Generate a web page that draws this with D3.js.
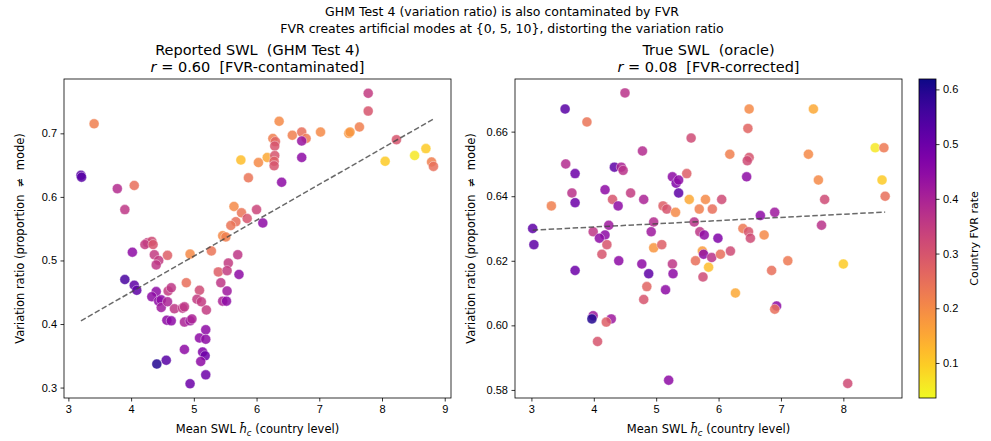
<!DOCTYPE html>
<html>
<head>
<meta charset="utf-8">
<script src="https://cdn.jsdelivr.net/npm/d3@7"></script>
<style>
  html, body { margin: 0; padding: 0; background: #fff; }
  svg { display: block; font-family: "DejaVu Sans", sans-serif; }
  svg text { white-space: pre; }
  .tick text { font-size: 11px; fill: #000; }
  .tick line, .domain { stroke: #000; stroke-width: 0.8; }
</style>
</head>
<body>
<svg id="chart" width="991" height="441"></svg>
<script>
// Reported SWL (left panel): mean SWL, variation ratio, country FVR rate
const reportedX = [3.41, 3.20, 3.21, 3.78, 4.05, 3.90, 5.75, 6.03, 5.87, 5.64, 5.76, 5.85, 5.67, 5.59, 6.00,
  6.36, 6.26, 6.30, 6.29, 6.57, 6.72, 6.79, 6.72, 7.02, 7.47, 7.49, 6.17, 6.29, 6.28, 6.28, 6.72, 6.40, 6.10,
  5.46, 5.51, 5.28, 5.70, 5.55, 5.39, 5.53, 5.72, 5.43, 5.53, 5.46, 5.52, 7.78, 7.78, 7.64, 8.23, 8.05, 8.52,
  8.70, 8.79, 8.82, 4.26, 4.33, 4.22, 4.35, 4.02, 4.37, 4.58, 4.44, 4.40, 4.94, 3.90, 4.05, 4.09, 4.40, 4.33,
  4.44, 4.48, 4.48, 4.58, 4.59, 4.64, 4.69, 4.82, 4.85, 4.88, 5.09, 5.05, 5.12, 5.20, 4.57, 4.64, 4.85, 4.94,
  4.97, 5.19, 5.09, 5.19, 4.85, 5.14, 5.18, 5.11, 4.56, 4.41, 5.19, 4.94];
const reportedY = [0.715, 0.634, 0.631, 0.613, 0.618, 0.580, 0.658, 0.654, 0.630, 0.585, 0.575, 0.566, 0.561, 0.555, 0.580,
  0.719, 0.692, 0.687, 0.680, 0.697, 0.702, 0.692, 0.688, 0.702, 0.700, 0.702, 0.662, 0.665, 0.656, 0.649, 0.662, 0.623, 0.559,
  0.539, 0.537, 0.515, 0.509, 0.496, 0.482, 0.484, 0.478, 0.465, 0.452, 0.436, 0.436, 0.763, 0.735, 0.710, 0.690, 0.656, 0.665,
  0.676, 0.655, 0.648, 0.528, 0.530, 0.525, 0.525, 0.513, 0.509, 0.508, 0.500, 0.493, 0.510, 0.470, 0.461, 0.453, 0.451, 0.443,
  0.436, 0.438, 0.426, 0.435, 0.452, 0.457, 0.424, 0.425, 0.427, 0.465, 0.453, 0.439, 0.435, 0.422, 0.406, 0.405, 0.403, 0.405,
  0.408, 0.391, 0.378, 0.376, 0.360, 0.356, 0.350, 0.341, 0.343, 0.337, 0.320, 0.306];
const reportedFvr = [0.22, 0.53, 0.53, 0.38, 0.25, 0.36, 0.12, 0.20, 0.24, 0.20, 0.24, 0.30, 0.25, 0.24, 0.33,
  0.20, 0.22, 0.27, 0.30, 0.22, 0.25, 0.23, 0.43, 0.20, 0.18, 0.18, 0.15, 0.30, 0.28, 0.30, 0.45, 0.45, 0.45,
  0.20, 0.22, 0.24, 0.36, 0.35, 0.28, 0.35, 0.45, 0.36, 0.42, 0.40, 0.45, 0.35, 0.30, 0.22, 0.30, 0.10, 0.06,
  0.10, 0.22, 0.25, 0.35, 0.32, 0.35, 0.30, 0.45, 0.35, 0.28, 0.35, 0.36, 0.20, 0.55, 0.52, 0.52, 0.45, 0.45,
  0.45, 0.45, 0.42, 0.40, 0.35, 0.36, 0.36, 0.36, 0.36, 0.25, 0.32, 0.35, 0.35, 0.35, 0.45, 0.45, 0.40, 0.42,
  0.40, 0.45, 0.45, 0.45, 0.45, 0.47, 0.50, 0.45, 0.53, 0.60, 0.50, 0.50];

// True SWL (right panel)
const trueX = [4.50, 3.54, 3.89, 5.56, 4.78, 3.55, 3.70, 4.33, 4.44, 4.47, 5.26, 5.32, 5.36, 5.49, 5.36, 5.53,
  5.69, 3.65, 3.70, 3.32, 4.18, 4.30, 4.39, 4.59, 4.80, 5.11, 5.17, 5.31, 3.02, 3.99, 4.24, 4.18, 4.09, 4.96,
  4.92, 5.61, 5.70, 6.49, 7.52, 6.47, 6.18, 6.49, 6.46, 7.44, 8.51, 8.65, 6.45, 7.60, 8.62, 7.70, 8.67, 5.79,
  6.05, 5.90, 6.90, 6.67, 7.65, 5.77, 5.99, 6.39, 6.48, 6.51, 6.73, 3.04, 4.21, 4.13, 4.40, 3.70, 4.96, 5.09,
  4.77, 4.88, 5.26, 5.27, 4.85, 5.74, 5.76, 5.63, 5.89, 6.03, 6.19, 5.84, 5.75, 5.15, 4.80, 3.99, 3.97, 4.28,
  4.20, 4.06, 5.20, 6.27, 6.85, 7.11, 8.00, 6.93, 6.90, 8.07];
const trueY = [0.672, 0.667, 0.663, 0.658, 0.654, 0.650, 0.647, 0.649, 0.649, 0.648, 0.646, 0.644, 0.645, 0.647, 0.641, 0.639,
  0.636, 0.641, 0.638, 0.637, 0.642, 0.639, 0.637, 0.641, 0.639, 0.637, 0.636, 0.635, 0.630, 0.629, 0.631, 0.628, 0.627, 0.632,
  0.629, 0.632, 0.629, 0.667, 0.667, 0.661, 0.653, 0.652, 0.651, 0.653, 0.655, 0.655, 0.646, 0.645, 0.645, 0.639, 0.640, 0.639,
  0.639, 0.636, 0.635, 0.634, 0.631, 0.628, 0.627, 0.630, 0.629, 0.627, 0.628, 0.625, 0.625, 0.622, 0.620, 0.617, 0.624, 0.625,
  0.619, 0.616, 0.619, 0.616, 0.612, 0.623, 0.622, 0.620, 0.621, 0.622, 0.623, 0.618, 0.615, 0.611, 0.608, 0.603, 0.602, 0.602,
  0.601, 0.595, 0.583, 0.610, 0.617, 0.620, 0.619, 0.606, 0.605, 0.582];
const trueFvr = [0.37, 0.53, 0.24, 0.32, 0.38, 0.38, 0.50, 0.52, 0.40, 0.37, 0.45, 0.47, 0.45, 0.28, 0.52, 0.15,
  0.22, 0.37, 0.50, 0.22, 0.45, 0.30, 0.45, 0.35, 0.40, 0.28, 0.30, 0.20, 0.52, 0.36, 0.42, 0.45, 0.45, 0.38,
  0.42, 0.37, 0.36, 0.20, 0.15, 0.27, 0.22, 0.30, 0.32, 0.20, 0.06, 0.23, 0.45, 0.20, 0.10, 0.32, 0.25, 0.20,
  0.32, 0.25, 0.42, 0.45, 0.37, 0.45, 0.47, 0.23, 0.30, 0.32, 0.20, 0.52, 0.30, 0.30, 0.45, 0.50, 0.18, 0.28,
  0.45, 0.52, 0.36, 0.45, 0.27, 0.17, 0.45, 0.25, 0.37, 0.25, 0.32, 0.12, 0.32, 0.45, 0.30, 0.42, 0.60, 0.42,
  0.28, 0.30, 0.45, 0.15, 0.25, 0.23, 0.10, 0.45, 0.25, 0.32];

// OLS fits as shown in the figure: [slope, intercept]
const reportedFit = [0.0565, 0.2242];
const trueFit = [0.00099, 0.6265];

const fvrRange = [0.036, 0.619];
const reportedXTicks = [3, 4, 5, 6, 7, 8, 9];
const reportedYTicks = [0.3, 0.4, 0.5, 0.6, 0.7];
const trueXTicks = [3, 4, 5, 6, 7, 8];
const trueYTicks = [0.58, 0.60, 0.62, 0.64, 0.66];
const fvrTicks = [0.1, 0.2, 0.3, 0.4, 0.5, 0.6];

const suptitle = ['GHM Test 4 (variation ratio) is also contaminated by FVR',
  'FVR creates artificial modes at {0, 5, 10}, distorting the variation ratio'];

const svg = d3.select('#chart');

// plasma_r: high FVR -> dark blue
const color = d3.scaleSequential(t => d3.interpolatePlasma(1 - t)).domain(fvrRange);

svg.selectAll('text.suptitle')
  .data(suptitle)
  .join('text')
  .attr('class', 'suptitle')
  .attr('x', 502)
  .attr('y', (d, i) => 16 + i * 17)
  .attr('text-anchor', 'middle')
  .attr('font-size', 12.5)
  .text(d => d);

function panel(opts) {
  const { left, right, top, bottom } = opts.box;
  const x = d3.scaleLinear().domain(opts.xDomain).range([left, right]);
  const y = d3.scaleLinear().domain(opts.yDomain).range([bottom, top]);
  const g = svg.append('g');

  g.append('g')
    .attr('transform', `translate(0,${bottom})`)
    .call(d3.axisBottom(x).tickValues(opts.xTicks).tickFormat(d3.format('d')).tickSize(3.5).tickPadding(3.5))
    .call(a => a.select('.domain').remove());
  g.append('g')
    .attr('transform', `translate(${left},0)`)
    .call(d3.axisLeft(y).tickValues(opts.yTicks).tickFormat(d3.format(opts.yFormat)).tickSize(3.5).tickPadding(3.5))
    .call(a => a.select('.domain').remove());

  const pts = opts.xs.map((v, i) => ({ x: v, y: opts.ys[i], f: opts.fvr[i] }));
  g.selectAll('circle')
    .data(pts)
    .join('circle')
    .attr('cx', d => x(d.x))
    .attr('cy', d => y(d.y))
    .attr('r', 5)
    .attr('fill', d => color(d.f))
    .attr('fill-opacity', 0.85)
    .attr('stroke', '#fff')
    .attr('stroke-width', 0.4);

  const xExt = d3.extent(opts.xs);
  const [m, b] = opts.fit;
  g.append('line')
    .attr('x1', x(xExt[0])).attr('y1', y(m * xExt[0] + b))
    .attr('x2', x(xExt[1])).attr('y2', y(m * xExt[1] + b))
    .attr('stroke', '#444')
    .attr('stroke-opacity', 0.8)
    .attr('stroke-width', 1.5)
    .attr('stroke-dasharray', '5.5,2.5');

  g.append('rect')
    .attr('x', left).attr('y', top)
    .attr('width', right - left).attr('height', bottom - top)
    .attr('fill', 'none').attr('stroke', '#000').attr('stroke-width', 0.8);

  const cx = (left + right) / 2;
  g.append('text')
    .attr('x', cx).attr('y', top - 24)
    .attr('text-anchor', 'middle').attr('font-size', 14.5)
    .text(opts.title);
  const t2 = g.append('text')
    .attr('x', cx).attr('y', top - 7)
    .attr('text-anchor', 'middle').attr('font-size', 14.5);
  t2.append('tspan').attr('font-style', 'italic').text('r');
  t2.append('tspan').text(' = ' + opts.r + '  [' + opts.tag + ']');

  const xl = g.append('text')
    .attr('x', cx).attr('y', bottom + 35)
    .attr('text-anchor', 'middle').attr('font-size', 11.5);
  xl.append('tspan').text('Mean SWL ');
  xl.append('tspan').attr('font-style', 'italic').text('h\u0304');
  xl.append('tspan').attr('font-style', 'italic').attr('font-size', 8.5).attr('dy', 2.5).text('c');
  xl.append('tspan').attr('dy', -2.5).text(' (country level)');

  g.append('text')
    .attr('transform', `translate(${left - 40},${(top + bottom) / 2}) rotate(-90)`)
    .attr('text-anchor', 'middle').attr('font-size', 11.5)
    .text('Variation ratio (proportion  \u2260  mode)');
}

panel({
  box: { left: 64, right: 451, top: 79, bottom: 398 },
  xDomain: [2.93, 9.10], yDomain: [0.2836, 0.7855],
  xTicks: reportedXTicks, yTicks: reportedYTicks, yFormat: '.1f',
  xs: reportedX, ys: reportedY, fvr: reportedFvr, fit: reportedFit,
  title: 'Reported SWL  (GHM Test 4)', r: '0.60', tag: 'FVR-contaminated'
});

panel({
  box: { left: 515, right: 902, top: 79, bottom: 398 },
  xDomain: [2.737, 8.94], yDomain: [0.5775, 0.6763],
  xTicks: trueXTicks, yTicks: trueYTicks, yFormat: '.2f',
  xs: trueX, ys: trueY, fvr: trueFvr, fit: trueFit,
  title: 'True SWL  (oracle)', r: '0.08', tag: 'FVR-corrected'
});

// colorbar
const cb = { left: 919, right: 936, top: 79, bottom: 398 };
const cbScale = d3.scaleLinear().domain(fvrRange).range([cb.bottom, cb.top]);
const grad = svg.append('defs').append('linearGradient')
  .attr('id', 'cbgrad').attr('x1', 0).attr('x2', 0).attr('y1', 1).attr('y2', 0);
grad.selectAll('stop')
  .data(d3.range(0, 1.0001, 0.05))
  .join('stop')
  .attr('offset', d => d)
  .attr('stop-color', d => color(fvrRange[0] + d * (fvrRange[1] - fvrRange[0])));
svg.append('rect')
  .attr('x', cb.left).attr('y', cb.top)
  .attr('width', cb.right - cb.left).attr('height', cb.bottom - cb.top)
  .attr('fill', 'url(#cbgrad)').attr('stroke', '#000').attr('stroke-width', 0.8);
svg.append('g')
  .attr('transform', `translate(${cb.right},0)`)
  .call(d3.axisRight(cbScale).tickValues(fvrTicks).tickFormat(d3.format('.1f')).tickSize(3.5).tickPadding(3.5))
  .call(a => a.select('.domain').remove());
svg.append('text')
  .attr('transform', `translate(978,${(cb.top + cb.bottom) / 2}) rotate(-90)`)
  .attr('text-anchor', 'middle').attr('font-size', 11)
  .text('Country FVR rate');
</script>
</body>
</html>
